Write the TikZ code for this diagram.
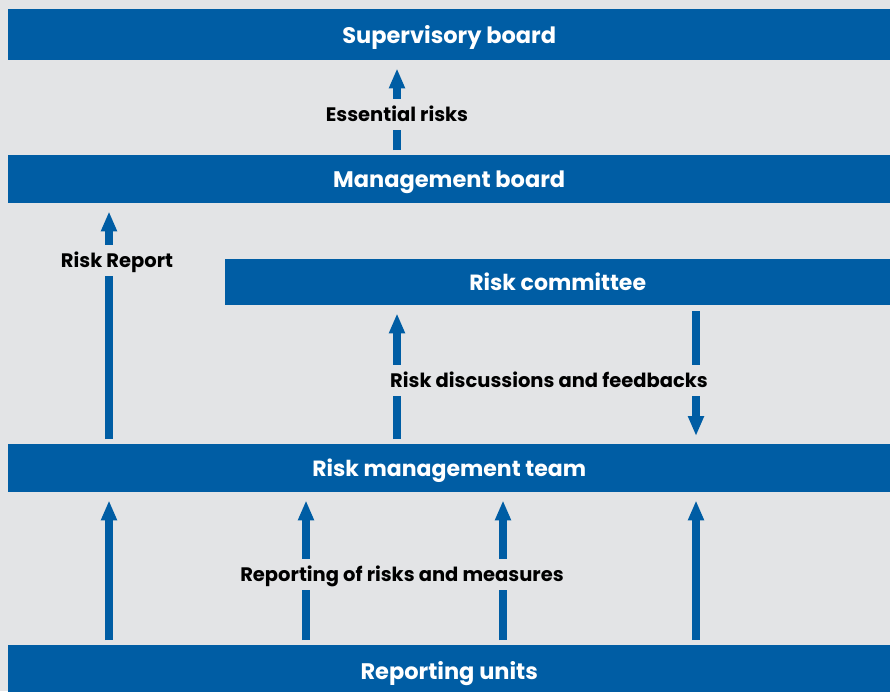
\documentclass[tikz,border=0pt]{standalone}
\usepackage{fontspec}
\setmainfont{Poppins}
\usetikzlibrary{arrows.meta}
\definecolor{bg}{RGB}{227,228,230}
\definecolor{barblue}{RGB}{0,93,164}
\begin{document}
\begin{tikzpicture}[x=1pt,y=-1pt,
  bar/.style={fill=barblue,text=white,font=\bfseries\fontsize{22.5}{26}\selectfont,inner sep=0pt,anchor=north west,text height=16pt,text depth=0pt},
  lbl/.style={fill=bg,text=black,font=\bfseries\fontsize{19.5}{23}\selectfont,inner xsep=2pt,inner ysep=9pt,text height=13.5pt,text depth=0pt},
  arr/.style={draw=barblue,line width=7.5pt,-{Triangle[width=15pt,length=20pt]},shorten >=8pt,shorten <=5pt}]
\path[fill=bg,use as bounding box] (0,0) rectangle (890,691);
% bars
\node[bar,minimum width=882pt,minimum height=53pt] (sup) at (8,9) {Supervisory board};
\node[bar,minimum width=882pt,minimum height=48pt] (mgmt) at (8,155) {Management board};
\node[bar,minimum width=665pt,minimum height=46pt,font=\bfseries\fontsize{22}{26}\selectfont] (comm) at (225,259) {Risk committee};
\node[bar,minimum width=882pt,minimum height=48pt,font=\bfseries\fontsize{22}{26}\selectfont] (team) at (8,444) {Risk management team};
\node[bar,minimum width=882pt,minimum height=52pt] (units) at (8,645) {Reporting units};
\fill[bg] (8,60) rectangle (890,62);
% arrow positions
\coordinate (xa) at (397,0);
\coordinate (xb) at (109,0);
\coordinate (xc) at (306,0);
\coordinate (xd) at (503,0);
\coordinate (xe) at (696,0);
% arrows
\draw[arr,shorten >=6pt] (mgmt.north -| xa) -- (sup.south -| xa);
\draw[arr] (team.north -| xb) -- (mgmt.south -| xb);
\draw[arr] (team.north -| xa) -- (comm.south -| xa);
\draw[arr,shorten <=6pt] (comm.south -| xe) -- (team.north -| xe);
\foreach \c in {xb,xc,xd,xe}{
  \draw[arr] (units.north -| \c) -- (team.south -| \c);
}
% labels
\node[lbl] (ess) at (397,114.5) {Essential risks};
\node[lbl] (rr) at (117,260.5) {Risk Report};
\node[lbl] (disc) at (549,380.5) {Risk discussions and feedbacks};
\node[lbl] (rep) at (402,574.5) {Reporting of risks and measures};
\end{tikzpicture}
\end{document}
